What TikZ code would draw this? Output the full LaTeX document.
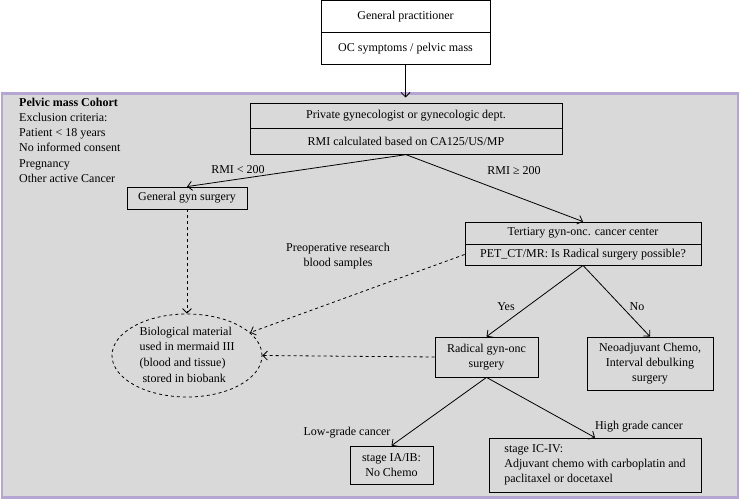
\documentclass[tikz,border=0pt]{standalone}
\usepackage{fontspec}
\setmainfont{Liberation Serif}
\usetikzlibrary{shapes.geometric,arrows.meta}

\definecolor{cohortframe}{RGB}{180,165,210}
\definecolor{cohortfill}{RGB}{217,217,217}

\begin{document}
\begin{tikzpicture}[x=1pt, y=-1pt,
    every node/.style={font=\fontsize{12}{15.3}\selectfont},
    cell/.style={draw, line width=0.8pt, inner sep=2pt},
    flow/.style={-{Straight Barb[length=4.5pt,width=9pt]}, line width=0.8pt},
    sample/.style={-{Straight Barb[length=4.5pt,width=9pt]}, dashed, line width=0.8pt}
  ]

    \useasboundingbox (0,0) rectangle (740,500);

    % --- Cohort frame ---
    \node[draw=cohortframe, fill=cohortfill, line width=2.5pt, inner sep=0,
          minimum width=736pt, minimum height=404pt] (cohort) at (370,295.5) {};

    % --- General practitioner ---
    \node[cell, minimum width=169pt, minimum height=32pt] (gp) at (405.5,16.5) {General practitioner};
    \node[cell, minimum width=169pt, minimum height=32pt] (ocs) at (405.5,48.5) {OC symptoms / pelvic mass};
    \coordinate (entry) at (405.5,97.5);

    % --- Exclusion criteria ---
    \node[align=left, anchor=north west, inner sep=0] (crit) at (19,97.5)
        {\textbf{Pelvic mass Cohort}\\Exclusion criteria:\\Patient < 18 years\\No informed consent\\Pregnancy\\Other active Cancer};

    % --- Private gynecologist ---
    \node[cell, minimum width=312pt, minimum height=25.5pt] (prv) at (406,116) {Private gynecologist or gynecologic dept.};
    \node[cell, minimum width=312pt, minimum height=25.5pt] (rmi) at (406,141.5) {RMI calculated based on CA125/US/MP};

    % --- RMI branches ---
    \node[cell, minimum width=120pt, minimum height=22pt] (gyn) at (187,198) {General gyn surgery};
    \node[cell, minimum width=236pt, minimum height=22pt] (ter) at (583,233) {Tertiary gyn-onc. cancer center};
    \node[cell, minimum width=236pt, minimum height=21pt] (pet) at (583,254.5) {PET\_CT/MR: Is Radical surgery possible?};
    \node (lowrmi) at (238,170) {RMI < 200};
    \node (highrmi) at (514,171) {RMI ≥ 200};

    % --- Biobank ---
    \node[ellipse, draw, dashed, line width=0.8pt, inner sep=0,
          minimum width=150pt, minimum height=83pt] (bio) at (187,355.5) {};
    \node[align=left, inner sep=0, font=\fontsize{12}{15.6}\selectfont] (biotext) at ([yshift=1pt]bio) {Biological material\\used in mermaid III\\(blood and tissue)\\\ stored in biobank};
    \node[align=center] (preop) at (338,256) {Preoperative research\\blood samples};

    % --- Surgery decision ---
    \node[cell, align=center, minimum width=103pt, minimum height=40pt] (rad) at (486.5,357) {Radical gyn-onc\\surgery};
    \node[cell, align=center, minimum width=126pt, minimum height=53pt] (neo) at (650,363.5) {Neoadjuvant Chemo,\\Interval debulking\\surgery};
    \node (yes) at (506,307) {Yes};
    \node (no) at (637,307) {No};

    % --- Stages ---
    \node[cell, align=center, minimum width=83pt, minimum height=38pt] (ia) at (391.5,465) {stage IA/IB:\\No Chemo};
    \node[cell, align=left, minimum width=212pt, minimum height=54pt] (ic) at (595,465) {stage IC-IV:\\Adjuvant chemo with carboplatin and\\paclitaxel or docetaxel};
    \node (low) at (347,433) {Low-grade cancer};
    \node (high) at (639,427) {High grade cancer};

    % --- Connectors ---
    \draw[flow] (ocs.south) -- (entry);
    \draw[flow] (rmi.south) -- (gyn.north);
    \draw[flow] (rmi.south) -- (ter.north);
    \draw[flow] (pet.south) -- (rad.north);
    \draw[flow] (pet.south) -- (neo.north);
    \draw[flow] (rad.south) -- (ia.north);
    \draw[flow] (rad.south) -- (ic.north);
    \draw[sample] (gyn.south) -- (bio.north);
    \draw[sample] (pet.west) -- (bio);
    \draw[sample] (rad.west) -- (bio.east);

\end{tikzpicture}
\end{document}
